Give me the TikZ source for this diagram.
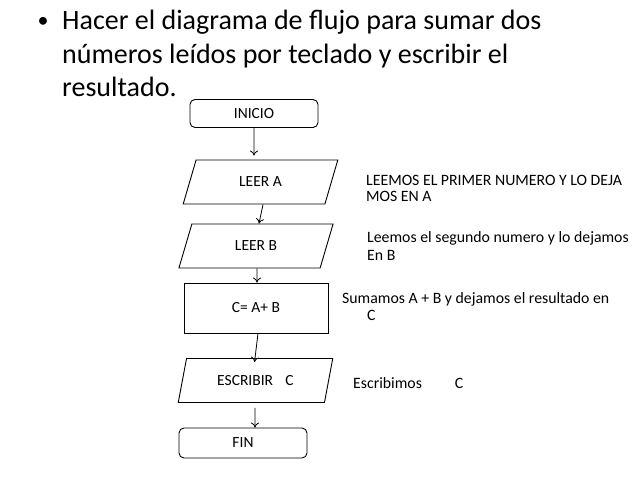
\documentclass[tikz,border=0pt]{standalone}
\usepackage{fontspec}
\setmainfont{Carlito}
\usetikzlibrary{arrows.meta, positioning, shapes.geometric}

\begin{document}
\begin{tikzpicture}[x=1pt, y=-1pt,
  term/.style={rectangle, draw=black, line width=0.9pt, rounded corners=5pt,
               minimum width=128pt, minimum height=28pt, font=\fontsize{15.5}{17}\selectfont},
  io/.style={trapezium, trapezium left angle=73.5, trapezium right angle=106.5,
             trapezium stretches=true, draw=black, line width=0.9pt, minimum width=155pt,
             minimum height=44pt, font=\fontsize{15.5}{17}\selectfont},
  proc/.style={rectangle, draw=black, line width=0.9pt, minimum width=144pt,
               minimum height=50pt, font=\fontsize{15.5}{17}\selectfont},
  note/.style={anchor=base west, inner sep=0pt, font=\fontsize{15.8}{17}\selectfont},
  flow/.style={line width=0.8pt, -{To[length=5pt, width=8pt]}}
]
  \useasboundingbox (0,0) rectangle (638,479);

  % enunciado
  \node[inner sep=0pt, font=\fontsize{22}{26}\selectfont] (bullet) at (43,22) {\textbullet};
  \node[anchor=base west, inner sep=0pt, font=\fontsize{28}{33}\selectfont] (t1) at (62,30)
    {Hacer el diagrama de flujo para sumar dos};
  \node[anchor=base west, inner sep=0pt, font=\fontsize{28}{33}\selectfont] (t2) at (62,63)
    {números leídos por teclado y escribir el};
  \node[anchor=base west, inner sep=0pt, font=\fontsize{28}{33}\selectfont] (t3) at (62,96)
    {resultado.};

  % diagrama
  \node[term] (inicio) at (254,113.5) {INICIO};
  \node[io] (leerA) at (260.5,182) {LEER A};
  \node[io] (leerB) at (256,246) {LEER B};
  \node[proc] (suma) at (256,308) {C= A+ B};
  \node[io] (escribir) at (255.5,380.5) {ESCRIBIR\hspace{0.8em}C};
  \node[term, minimum height=30pt] (fin) at (243,443) {FIN};

  \draw[flow, shorten >=4pt] (inicio.south) -- ([xshift=-6.5pt]leerA.north);
  \draw[flow] ([xshift=2.5pt]leerA.south) -- ([xshift=3pt]leerB.north);
  \draw[flow] ([xshift=1pt]leerB.south) -- ([xshift=1pt]suma.north);
  \draw[flow, shorten >=-4pt] ([xshift=2pt]suma.south) -- ([xshift=-0.5pt]escribir.north);
  \draw[flow, shorten <=5pt] ([xshift=-0.5pt]escribir.south) -- ([xshift=12pt]fin.north);

  % comentarios
  \node[note] (nA1) at (366,185) {LEEMOS EL PRIMER NUMERO Y LO DEJA};
  \node[note] (nA2) at ([yshift=-16.5pt]nA1.base west) {MOS EN A};
  \node[note] (nB1) at (367,242) {Leemos el segundo numero y lo dejamos};
  \node[note] (nB2) at ([yshift=-18pt]nB1.base west) {En B};
  \node[note] (nS1) at (342,303) {Sumamos A + B y dejamos el resultado en};
  \node[note] (nS2) at ([xshift=25pt, yshift=-17pt]nS1.base west) {C};
  \node[note] (nE1) at (353,388) {Escribimos\hspace{33pt}C};
\end{tikzpicture}
\end{document}
